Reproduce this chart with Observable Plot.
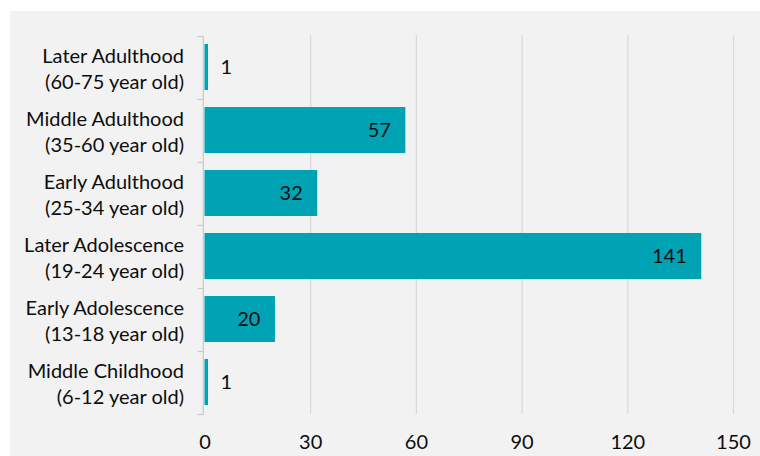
<!DOCTYPE html>
<html>
<head>
<meta charset="utf-8">
<script src="https://cdn.jsdelivr.net/npm/d3@7"></script>
<script src="https://cdn.jsdelivr.net/npm/@observablehq/plot@0.6"></script>
<style>
  html, body { margin: 0; padding: 0; background: #ffffff; width: 760px; height: 456px; overflow: hidden; }
  #chart { position: absolute; left: 10px; top: 11px; width: 750px; height: 445px; background: #f2f2f2; }
  #chart svg { background: #f2f2f2; display: block; }
</style>
</head>
<body>
<div id="chart"></div>
<script>
const stages = ["Later Adulthood", "Middle Adulthood", "Early Adulthood", "Later Adolescence", "Early Adolescence", "Middle Childhood"];
const ageRanges = ["(60-75 year old)", "(35-60 year old)", "(25-34 year old)", "(19-24 year old)", "(13-18 year old)", "(6-12 year old)"];
const counts = [1, 57, 32, 141, 20, 1];
const xTicks = [0, 30, 60, 90, 120, 150];

const labels = stages.map((s, i) => s + "\n" + ageRanges[i]);
const data = labels.map((label, i) => ({label, count: counts[i]}));

const barColor = "#00a3b3";
const axisColor = "#c9c9c9";
const textColor = "#0d0d0d";

function bandTicks(index, scales) {
  const y = scales.y, x = scales.x;
  const desc = scales.scales && scales.scales.y ? scales.scales.y : {};
  const bw = desc.bandwidth != null ? desc.bandwidth : (y.bandwidth ? y.bandwidth() : 0);
  const step = desc.step != null ? desc.step : (y.step ? y.step() : (y(labels[1]) - y(labels[0])));
  const gap = (step - bw) / 2;
  const x0 = x(0);
  const bounds = labels.map(l => y(l) - gap);
  bounds.push(y(labels[labels.length - 1]) + bw + gap);
  const g = d3.create("svg:g").attr("stroke", axisColor).attr("stroke-width", 1.2).attr("fill", "none");
  for (const b of bounds) {
    g.append("line").attr("x1", x0 - 7).attr("x2", x0 - 1).attr("y1", Math.round(b) + 0.5).attr("y2", Math.round(b) + 0.5);
  }
  g.append("line").attr("x1", x0 - 1.2).attr("x2", x0 - 1.2).attr("y1", Math.round(bounds[0]) + 0.5).attr("y2", Math.round(bounds[bounds.length - 1]) + 0.5);
  return g.node();
}

const chart = Plot.plot({
  width: 750,
  height: 445,
  marginLeft: 194.5,
  marginRight: 27,
  marginTop: 24,
  marginBottom: 42,
  style: {fontFamily: "Lato, 'Open Sans', sans-serif", fontSize: "20px", background: "#f2f2f2", color: textColor},
  x: {domain: [0, 150], ticks: xTicks},
  y: {domain: labels, paddingInner: 0.27, paddingOuter: 0.135},
  marks: [
    Plot.gridX(xTicks.filter(t => t > 0), {stroke: "#d9d9d9", strokeOpacity: 1, strokeWidth: 1.2}),
    Plot.barX(data, {x: "count", y: "label", fill: barColor}),
    bandTicks,
    Plot.axisX({ticks: xTicks, tickSize: 0, tickPadding: 20, fontSize: 20, fill: textColor, label: null}),
    Plot.axisY({tickSize: 0, tickPadding: 21, fontSize: 20, lineHeight: 1.3, fill: textColor, label: null}),
    Plot.text(data.filter(d => d.count >= 10), {x: "count", y: "label", text: d => String(d.count), textAnchor: "end", dx: -15, fontSize: 20, fill: textColor}),
    Plot.text(data.filter(d => d.count < 10), {x: "count", y: "label", text: d => String(d.count), textAnchor: "start", dx: 12, fontSize: 20, fill: textColor})
  ]
});
document.getElementById("chart").appendChild(chart);
</script>
</body>
</html>
